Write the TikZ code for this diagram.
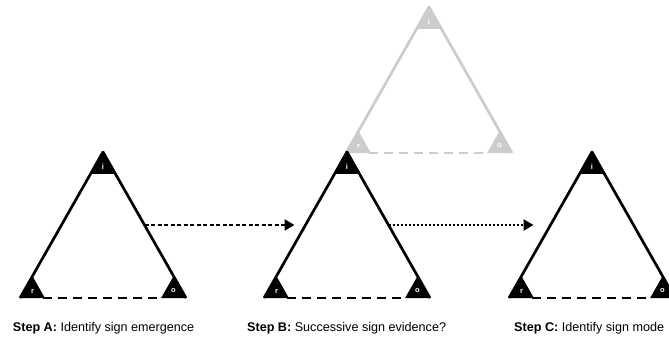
\documentclass[tikz,border=0pt]{standalone}
\usepackage{fontspec}
\setmainfont{Liberation Sans}
\usetikzlibrary{calc,arrows.meta}

\definecolor{faded}{HTML}{CCCCCC}

\tikzset{
  side/.style={line width=2.7pt, line join=round},
  basedash/.style={line width=2.4pt, dash pattern=on 9pt off 6pt},
  corner/.style={text=white, font=\fontsize{7.5}{8}\selectfont\bfseries, inner sep=0pt},
  caption/.style={anchor=base west, font=\fontsize{12.6}{14}\selectfont, inner sep=0pt},
  flow/.style={line width=2.6pt, -{Triangle[length=10pt,width=11pt]}},
}

% sign triangle: name, apex x, apex y, colour
\newcommand\semtri[4]{%
  \coordinate (#1-i) at (#2,#3);
  \coordinate (#1-r) at (#2-83,#3+146);
  \coordinate (#1-o) at (#2+83,#3+146);
  \draw[side,draw=#4] (#1-r) -- (#1-i) -- (#1-o);
  \draw[basedash,draw=#4] ($(#1-r)!0.14!(#1-o)$) -- ($(#1-o)!0.14!(#1-r)$);
  \fill[#4] (#1-i) -- ($(#1-i)!0.15!(#1-r)$) -- ($(#1-i)!0.15!(#1-o)$) -- cycle;
  \fill[#4] (#1-r) -- ($(#1-r)!0.15!(#1-i)$) -- ($(#1-r)!0.15!(#1-o)$) -- cycle;
  \fill[#4] (#1-o) -- ($(#1-o)!0.15!(#1-i)$) -- ($(#1-o)!0.15!(#1-r)$) -- cycle;
  \node[corner] (#1-il) at ($(#1-i)+(0,14.5)$) {i};
  \node[corner] (#1-rl) at ($(#1-r)+(12.5,-7)$) {r};
  \node[corner] (#1-ol) at ($(#1-o)+(-12.5,-7)$) {o};
}

\begin{document}
\begin{tikzpicture}[x=1pt,y=-1pt]
  \useasboundingbox (0,0) rectangle (669,337);
  \clip (0,0) rectangle (669,337);

  \semtri{G}{429}{7}{faded}
  \semtri{A}{103}{152}{black}
  \semtri{B}{347}{152}{black}
  \semtri{C}{592}{152}{black}

  \draw[flow, dash pattern=on 4pt off 2.5pt, shorten >=11pt]
    ($(A-i)!0.5!(A-o)$) -- ($(B-i)!0.5!(B-r)$);
  \draw[flow, dash pattern=on 2pt off 2pt, shorten >=17pt]
    ($(B-i)!0.5!(B-o)$) -- ($(C-i)!0.5!(C-r)$);

  \node[caption] (capA) at (12.7,331) {\textbf{Step A:} Identify sign emergence};
  \node[caption] (capB) at (247,331) {\textbf{Step B:} Successive sign evidence?};
  \node[caption] (capC) at (514,331) {\textbf{Step C:} Identify sign mode};
\end{tikzpicture}
\end{document}
